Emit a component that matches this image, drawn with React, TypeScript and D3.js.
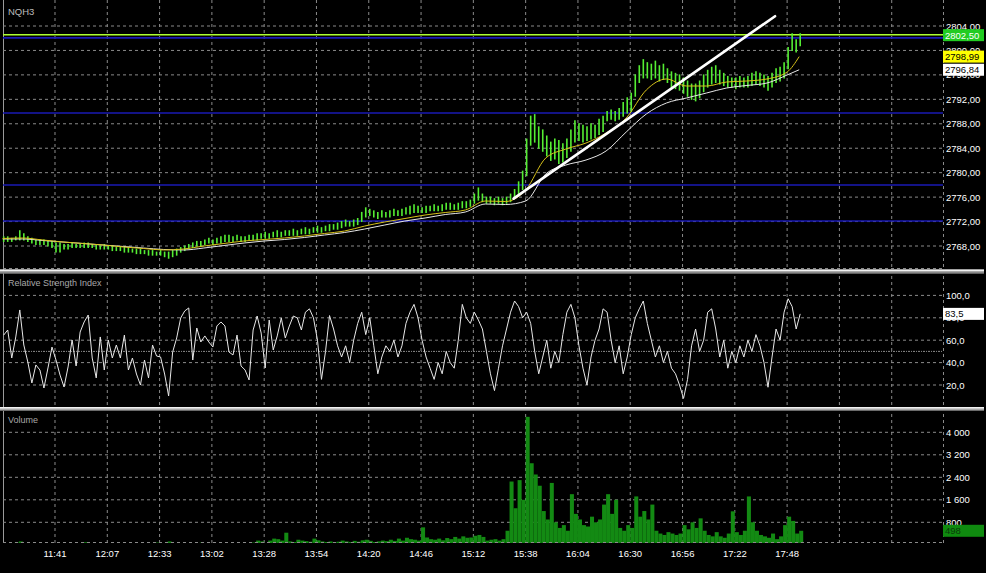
import React from "react";
import * as d3 from "d3";

const W = 986;
const H = 573;

const symbol = "NQH3";
const rsiTitle = "Relative Strength Index";
const volTitle = "Volume";

const timeLabels = ["11:41","12:07","12:33","13:02","13:28","13:54","14:20","14:46","15:12","15:38","16:04","16:30","16:56","17:22","17:48"];

const priceTicks = [2768, 2772, 2776, 2780, 2784, 2788, 2792, 2796, 2800, 2804];
const rsiTicks = [20, 40, 60, 80, 100];
const rsiLevels = [50];
const volTicks = [800, 1600, 2400, 3200, 4000];

// each sample = 2 one-minute bars
const priceHigh = [
2769.5,2769.5,2769.25,2769.5,2770.5,2770.0,2769.5,2769.25,2769.0,2769.0,
2769.0,2768.75,2768.75,2768.5,2768.5,2768.25,2768.25,2768.5,2768.25,2768.25,
2768.5,2768.5,2768.25,2768.25,2768.0,2768.25,2768.0,2768.0,2767.75,2767.75,
2767.75,2767.75,2767.5,2767.5,2767.5,2767.25,2767.25,2767.25,2767.0,2767.25,
2767.0,2767.0,2767.25,2767.5,2767.75,2768.0,2768.25,2768.5,2768.75,2768.75,
2769.0,2769.25,2769.0,2769.25,2769.5,2769.75,2769.75,2769.5,2769.75,2769.5,
2769.5,2769.75,2769.75,2770.0,2770.0,2770.25,2770.0,2770.25,2770.5,2770.25,
2770.5,2770.5,2770.75,2770.5,2770.75,2771.0,2770.75,2771.0,2771.25,2771.0,
2771.25,2771.5,2771.5,2771.75,2772.0,2772.25,2772.0,2772.25,2772.5,2773.5,
2774.25,2774.0,2773.75,2773.5,2773.75,2773.5,2773.75,2774.0,2773.75,2774.0,
2774.25,2774.5,2774.75,2774.5,2774.25,2774.5,2774.5,2774.75,2774.5,2774.75,
2775.0,2775.0,2774.75,2775.0,2775.25,2775.25,2775.5,2776.5,2777.5,2776.5,
2776.0,2776.0,2775.75,2776.0,2775.75,2776.0,2776.5,2777.25,2778.5,2780.25,
2785.5,2789.25,2789.5,2787.5,2787.0,2786.0,2785.0,2785.5,2785.25,2784.75,
2785.5,2787.0,2788.5,2788.0,2787.75,2787.5,2788.0,2787.75,2788.75,2789.25,
2790.0,2790.25,2790.0,2790.5,2791.5,2792.25,2793.0,2796.0,2797.5,2798.5,
2798.0,2797.75,2798.25,2797.5,2797.75,2797.0,2796.5,2796.25,2796.0,2795.5,
2795.0,2794.5,2794.5,2795.0,2796.0,2796.75,2797.25,2797.5,2796.75,2796.25,
2795.75,2795.5,2795.5,2795.75,2795.5,2795.75,2796.25,2796.5,2796.25,2796.0,
2795.75,2796.25,2797.0,2797.25,2798.0,2800.5,2802.75,2801.75,2802.75
];
const priceLow = [
2768.75,2768.75,2768.75,2769.0,2769.0,2769.0,2768.75,2768.5,2768.25,2768.25,
2768.25,2768.0,2767.75,2767.0,2767.0,2767.5,2767.5,2767.75,2767.75,2767.75,
2767.75,2767.75,2767.75,2767.5,2767.5,2767.5,2767.5,2767.25,2767.25,2767.25,
2767.0,2767.0,2767.0,2766.75,2766.75,2766.75,2766.5,2766.5,2766.5,2766.5,
2766.25,2766.0,2766.25,2766.5,2767.0,2767.25,2767.5,2767.75,2768.0,2768.0,
2768.25,2768.5,2768.25,2768.5,2768.5,2768.75,2768.75,2768.75,2769.0,2768.75,
2768.75,2769.0,2769.0,2769.0,2769.25,2769.25,2769.25,2769.5,2769.5,2769.5,
2769.75,2769.75,2769.75,2769.75,2770.0,2770.0,2770.0,2770.25,2770.25,2770.25,
2770.5,2770.5,2770.75,2770.75,2771.0,2771.25,2771.25,2771.25,2771.5,2772.0,
2772.75,2773.0,2772.75,2772.5,2772.75,2772.75,2772.75,2773.0,2773.0,2773.0,
2773.25,2773.25,2773.5,2773.5,2773.5,2773.5,2773.75,2773.75,2773.75,2773.75,
2774.0,2774.0,2774.0,2774.0,2774.25,2774.25,2774.5,2775.0,2775.5,2775.25,
2775.0,2775.0,2774.75,2775.0,2774.75,2775.0,2775.25,2775.75,2776.5,2777.25,
2779.5,2784.5,2785.0,2784.0,2783.5,2782.75,2782.0,2782.25,2781.5,2781.75,
2782.5,2783.5,2785.0,2785.25,2785.0,2785.25,2785.5,2785.75,2786.25,2786.75,
2788.5,2788.75,2788.5,2788.75,2789.25,2789.75,2790.0,2792.5,2794.75,2795.5,
2795.5,2795.25,2795.5,2795.0,2795.25,2794.75,2794.0,2793.75,2793.5,2793.0,
2792.5,2792.0,2791.75,2792.25,2793.25,2794.0,2794.5,2794.75,2794.5,2794.25,
2794.0,2794.0,2793.75,2794.0,2794.0,2794.0,2794.25,2794.5,2794.25,2794.0,
2793.5,2794.0,2794.75,2795.0,2795.5,2797.0,2800.0,2799.75,2800.75
];

// moving averages, read every 10 one-minute bars
const maBars = [0,10,20,30,40,50,60,70,80,90,100,110,120,130,140,150,160,170,180,190,200,210,220,230,240,250,260,270,280,290,300,310,320,330,340,350,360,370,380,390,396];
const maFast = [2769.23,2769.31,2768.98,2768.65,2768.41,2768.16,2767.84,2767.59,2767.35,2767.51,
2768.0,2768.41,2768.82,2769.06,2769.31,2769.64,2770.05,2770.45,2771.27,2771.93,
2772.5,2773.07,2773.48,2773.89,2775.36,2775.28,2777.16,2782.4,2783.87,2784.85,
2786.49,2788.95,2793.53,2795.33,2794.18,2794.18,2794.84,2795.0,2795.33,2796.47,2798.99];
const maSlow = [2769.15,2769.15,2768.9,2768.65,2768.41,2768.16,2767.92,2767.67,2767.43,2767.35,
2767.67,2768.08,2768.49,2768.82,2769.06,2769.39,2769.8,2770.21,2770.78,2771.44,
2772.09,2772.58,2773.15,2773.56,2774.87,2774.79,2775.36,2779.78,2781.25,2782.07,
2783.55,2786.65,2789.6,2791.4,2792.22,2793.04,2793.86,2794.27,2794.67,2795.98,2796.84];

const trendBars = [254, 384];
const trendPrices = [2775.75, 2805.6];

const blueLevels = [2802.05, 2789.76, 2777.98, 2772.09];
const bidPrice = 2802.5;

const rsi = [
64.6,69.1,44.1,62.9,87.0,55.7,40.5,21.8,37.9,33.4,
17.3,35.2,53.9,42.3,28.9,18.2,36.1,60.2,37.0,67.3,
76.3,82.5,44.1,26.3,62.9,33.4,60.2,44.1,55.7,44.1,
64.6,33.4,44.1,29.8,20.0,42.3,26.3,55.7,45.9,45.0,
29.8,10.2,49.5,62.0,79.8,86.1,88.8,42.3,70.9,58.4,
63.8,58.4,53.9,72.7,76.3,72.7,49.5,46.8,64.6,37.0,
33.4,24.5,69.1,81.6,66.4,35.2,78.0,51.3,63.8,79.8,
62.0,72.7,81.6,79.8,69.1,85,88,80,60,25,
50,82,70,55,45,55,40,60,75,85,
65,80,55,30,45,55,50,60,45,55,
75,85,92,80,60,45,35,25,40,30,
50,40,35,60,92,80,75,85,78,70,
50,30,15,35,55,70,85,95,90,80,
85,75,50,30,45,60,35,50,40,65,
85,92,80,55,35,20,45,60,70,88,
85,60,40,55,30,45,65,80,88,95,
75,60,45,55,40,50,35,30,20,8,
25,55,70,50,60,85,88,70,45,60,
35,50,40,55,45,60,50,65,55,40,
18,45,70,60,85,97,90,70,83.5
];

const volume = [
60,40,50,80,120,60,40,30,40,30,
40,30,50,60,40,30,30,40,30,50,
90,40,30,30,40,30,30,40,30,30,
30,40,30,30,40,30,50,40,80,50,
60,120,60,40,50,40,40,50,40,80,
50,40,40,50,40,30,40,50,40,60,
50,60,80,150,120,60,150,220,200,150,
430,120,100,180,150,130,110,220,160,120,
100,120,90,110,150,120,100,140,110,160,
180,140,100,120,150,130,180,140,220,150,
250,200,180,150,620,260,200,180,220,160,
240,200,280,220,300,250,260,320,350,280,
150,180,200,150,200,500,2250,1300,2300,1600,
4550,2900,2500,2100,1200,900,2200,800,600,700,
500,1800,1100,900,700,650,1000,800,900,1430,
1800,1100,1600,600,500,700,600,1720,1000,1200,
900,1430,500,400,350,450,400,350,400,700,
550,800,600,940,500,350,300,450,300,250,
400,1190,450,350,500,1720,800,500,350,300,
250,400,200,300,700,1000,850,400,498
];

const fmt2 = (v: number) => v.toFixed(2).replace(".", ",");
const fmt1 = (v: number) => v.toFixed(1).replace(".", ",");
const fmtVol = (v: number) => (v >= 1000 ? `${Math.floor(v / 1000)} ${String(v % 1000).padStart(3, "0")}` : String(v));

export default function App() {
  const plotRight = 943;
  const xScale = d3.scaleLinear().domain([0, 467.5]).range([2.7, plotRight]);
  const yP = d3.scaleLinear().domain([2768, 2804]).range([246, 26]);
  const yR = d3.scaleLinear().domain([0, 100]).range([407.4, 295.4]);
  const yV = d3.scaleLinear().domain([0, 4000]).range([544.8, 432.3]);

  const gridColor = "#8a8a8a";
  const dash = "3,3";
  const font = "'Liberation Sans', Arial, sans-serif";

  const gridBars = d3.range(0, 17).map((k) => 26 + 26 * k);

  const sampleX = (j: number) => xScale(2 * j + 0.5);

  const maFastLine = d3.line<number>().x((_, i) => xScale(maBars[i])).y((d) => yP(d)).curve(d3.curveMonotoneX);
  const maSlowLine = d3.line<number>().x((_, i) => xScale(maBars[i])).y((d) => yP(d)).curve(d3.curveMonotoneX);
  const rsiLine = d3.line<number>().x((_, j) => sampleX(j)).y((d) => yR(d));

  const lastRsi = rsi[rsi.length - 1];
  const lastVol = volume[volume.length - 1];
  const lastFast = maFast[maFast.length - 1];
  const lastSlow = maSlow[maSlow.length - 1];

  const rightLabel = (y: number, text: string, key: string) => (
    <text key={key} x={plotRight + 3} y={y + 3.5} fill="#ffffff" fontSize={9.5} fontFamily={font}>{text}</text>
  );

  const box = (y: number, text: string, fill: string, color: string, key: string) => (
    <g key={key}>
      <rect x={plotRight} y={y - 6} width={41} height={12} fill={fill} />
      <text x={plotRight + 2} y={y + 3.5} fill={color} fontSize={9.5} fontFamily={font}>{text}</text>
    </g>
  );

  const separator = (y: number, key: string) => (
    <g key={key}>
      <rect x={0} y={y} width={984} height={4} fill="#a8a8a8" />
      <rect x={0} y={y} width={984} height={1.5} fill="#f0f0f0" />
      <rect x={0} y={y + 3} width={984} height={1} fill="#6a6a6a" />
    </g>
  );

  return (
    <div style={{ width: W, height: H }}>
      <style>{`html,body{margin:0;padding:0;background:#000;}`}</style>
      <svg width={W} height={H} style={{ display: "block", background: "#000" }}>
        <rect x={0} y={0} width={W} height={H} fill="#000" />

        {/* vertical grid */}
        {gridBars.map((b) => (
          <line key={"vg" + b} x1={xScale(b)} x2={xScale(b)} y1={0} y2={543} stroke={gridColor} strokeDasharray={dash} strokeWidth={1} />
        ))}
        <line x1={plotRight + 0.5} x2={plotRight + 0.5} y1={0} y2={543} stroke={gridColor} strokeDasharray={dash} />
        <line x1={3.5} x2={3.5} y1={0} y2={545} stroke="#9a9a9a" />

        {/* ===== main panel ===== */}
        {priceTicks.map((v) => (
          <line key={"pg" + v} x1={3} x2={plotRight} y1={yP(v)} y2={yP(v)} stroke={gridColor} strokeDasharray={dash} />
        ))}
        <line x1={3} x2={plotRight} y1={268.5} y2={268.5} stroke={gridColor} strokeDasharray={dash} />
        {blueLevels.map((v) => (
          <line key={"bl" + v} x1={3} x2={plotRight} y1={yP(v)} y2={yP(v)} stroke="#1a1ab4" strokeWidth={1.6} />
        ))}
        <line x1={3} x2={plotRight} y1={yP(bidPrice) - 0.5} y2={yP(bidPrice) - 0.5} stroke="#adff2f" strokeWidth={1.5} />

        {priceHigh.map((h, j) => (
          <line key={"pb" + j} x1={sampleX(j)} x2={sampleX(j)} y1={yP(h) - 0.5} y2={yP(priceLow[j]) + 0.5} stroke="#55ee33" strokeWidth={1.6} />
        ))}
        <path d={maSlowLine(maSlow) || ""} fill="none" stroke="#e6e6e6" strokeWidth={1} />
        <path d={maFastLine(maFast) || ""} fill="none" stroke="#d8c21a" strokeWidth={1} />
        <line x1={xScale(trendBars[0])} y1={yP(trendPrices[0])} x2={xScale(trendBars[1])} y2={yP(trendPrices[1])} stroke="#ffffff" strokeWidth={2.6} strokeLinecap="round" />

        <text x={8} y={15} fill="#bdbdbd" fontSize={9.5} fontFamily={font}>{symbol}</text>

        {priceTicks.map((v) => rightLabel(yP(v), fmt2(v), "pl" + v))}
        {box(yP(bidPrice), fmt2(bidPrice), "#22cc22", "#ffffff", "bidbox")}
        {box(yP(lastFast), fmt2(lastFast), "#ffff00", "#000000", "fastbox")}
        {box(yP(lastSlow), fmt2(lastSlow), "#ffffff", "#000000", "slowbox")}

        {/* ===== RSI panel ===== */}
        {rsiTicks.map((v) => (
          <line key={"rg" + v} x1={3} x2={plotRight} y1={yR(v)} y2={yR(v)} stroke={gridColor} strokeDasharray={dash} />
        ))}
        {rsiLevels.map((v) => (
          <line key={"rl" + v} x1={3} x2={plotRight} y1={yR(v)} y2={yR(v)} stroke={gridColor} strokeDasharray="2,1,1,1" />
        ))}
        <path d={rsiLine(rsi) || ""} fill="none" stroke="#e8e8e8" strokeWidth={1} />
        <text x={8} y={286} fill="#a8a8a8" fontSize={9} fontFamily={font}>{rsiTitle}</text>
        {rsiTicks.map((v) => rightLabel(yR(v), fmt1(v), "rlab" + v))}
        {box(yR(lastRsi), fmt1(lastRsi), "#ffffff", "#000000", "rsibox")}

        {/* ===== Volume panel ===== */}
        {volTicks.map((v) => (
          <line key={"vgr" + v} x1={3} x2={plotRight} y1={yV(v)} y2={yV(v)} stroke={gridColor} strokeDasharray={dash} />
        ))}
        {volume.map((v, j) => (
          <rect key={"vb" + j} x={xScale(2 * j)} y={yV(v)} width={xScale(2 * j + 2) - xScale(2 * j)} height={Math.max(0, yV(0) - yV(v))} fill="#138a13" />
        ))}
        <line x1={3} x2={plotRight} y1={542.5} y2={542.5} stroke={gridColor} strokeDasharray={dash} />
        <rect x={0} y={543} width={W} height={30} fill="#000" />
        <text x={8} y={423} fill="#a8a8a8" fontSize={9} fontFamily={font}>{volTitle}</text>
        {volTicks.map((v) => rightLabel(yV(v), fmtVol(v), "vlab" + v))}
        {box(yV(lastVol), String(lastVol), "#0f8a0f", "#0a3a0a", "volbox")}

        {separator(269.5, "s1")}
        {separator(407, "s2")}

        {/* time axis */}
        {timeLabels.map((t, k) => (
          <text key={"t" + t} x={xScale(26 + 26 * k)} y={557} fill="#ffffff" fontSize={9.5} fontFamily={font} textAnchor="middle">{t}</text>
        ))}
      </svg>
    </div>
  );
}
